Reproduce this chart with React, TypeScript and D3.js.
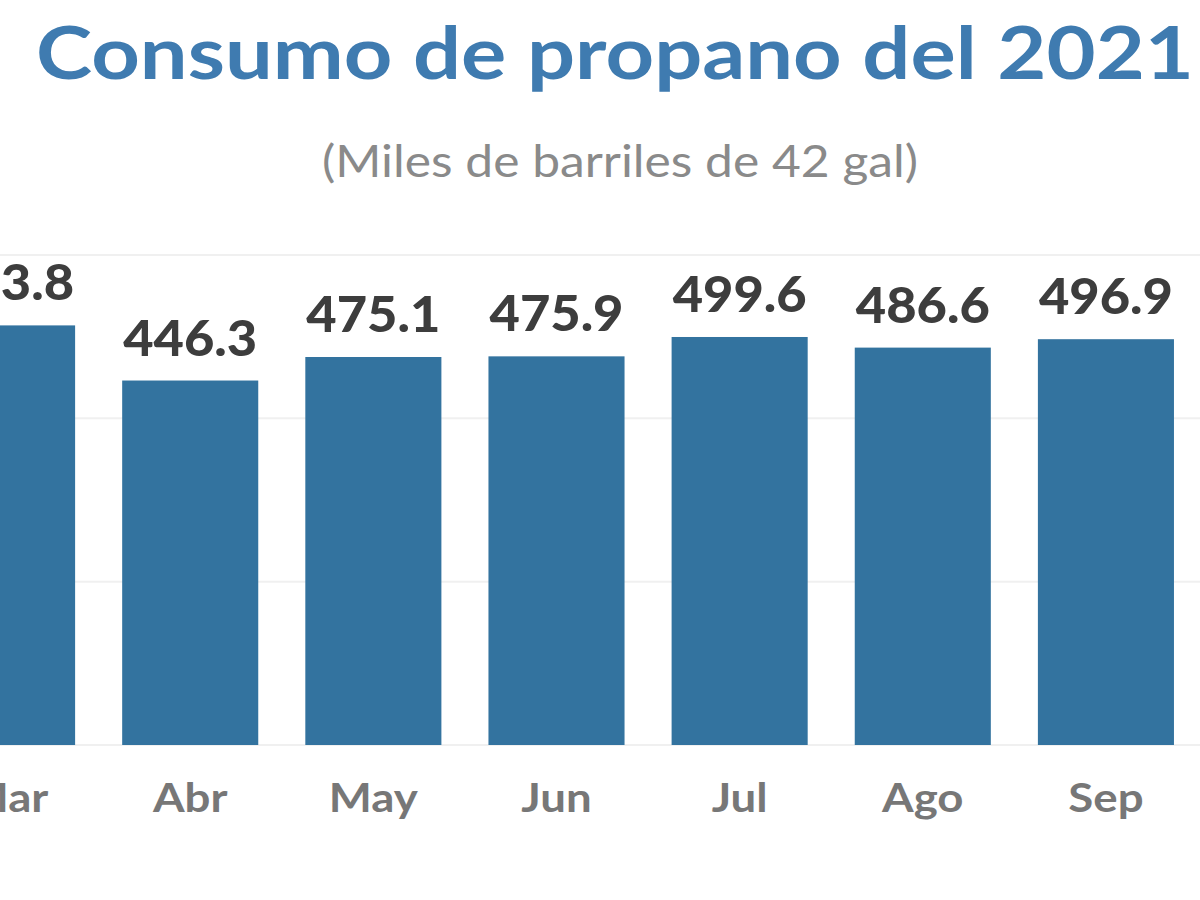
import React from "react";
import * as d3 from "d3";

const months = ["Mar", "Abr", "May", "Jun", "Jul", "Ago", "Sep"];
const values = [513.8, 446.3, 475.1, 475.9, 499.6, 486.6, 496.9];
const gridTicks = [0, 200, 400, 600];
const title = "Consumo de propano del 2021";
const subtitle = "(Miles de barriles de 42 gal)";

const W = 1200;
const H = 900;
const FONT = "Lato, 'Open Sans', sans-serif";

export default function App() {
  const x = d3
    .scaleBand<string>()
    .domain(months)
    .range([-84.5, 1197.5])
    .paddingInner(0.257)
    .paddingOuter(0.1285);
  const y = d3.scaleLinear().domain([0, 600]).range([745, 255]);
  const fmt = d3.format(".1f");

  return (
    <svg
      width={W}
      height={H}
      style={{ position: "absolute", left: 0, top: 0, background: "#fff" }}
    >
      <rect x={0} y={0} width={W} height={H} fill="#fff" />
      <text
        x={615}
        y={79}
        textAnchor="middle"
        fontFamily={FONT}
        fontWeight={700}
        fontSize={72}
        fill="#3f7bb0"
        textLength={1158}
        lengthAdjust="spacingAndGlyphs"
      >
        {title}
      </text>
      <text
        x={620}
        y={177}
        textAnchor="middle"
        fontFamily={FONT}
        fontSize={44}
        fill="#8a8a8a"
        textLength={596}
        lengthAdjust="spacingAndGlyphs"
      >
        {subtitle}
      </text>
      {gridTicks.map((t) => (
        <line
          key={t}
          x1={0}
          x2={W}
          y1={y(t)}
          y2={y(t)}
          stroke="#f0f0f0"
          strokeWidth={2}
        />
      ))}
      {months.map((m, i) => {
        const cx = x(m)! + x.bandwidth() / 2;
        return (
          <g key={m}>
            <rect
              x={x(m)!}
              y={y(values[i])}
              width={x.bandwidth()}
              height={y(0) - y(values[i])}
              fill="#33739f"
            />
            <text
              x={cx}
              y={y(values[i]) - 25}
              textAnchor="middle"
              fontFamily={FONT}
              fontWeight={900}
              fontSize={49}
              fill="#3d3d3d"
              textLength={134}
              lengthAdjust="spacingAndGlyphs"
            >
              {fmt(values[i])}
            </text>
            <text
              transform={`translate(${cx},812) scale(1.14,1)`}
              textAnchor="middle"
              fontFamily={FONT}
              fontWeight={700}
              fontSize={40}
              fill="#777"
            >
              {m}
            </text>
          </g>
        );
      })}
    </svg>
  );
}
